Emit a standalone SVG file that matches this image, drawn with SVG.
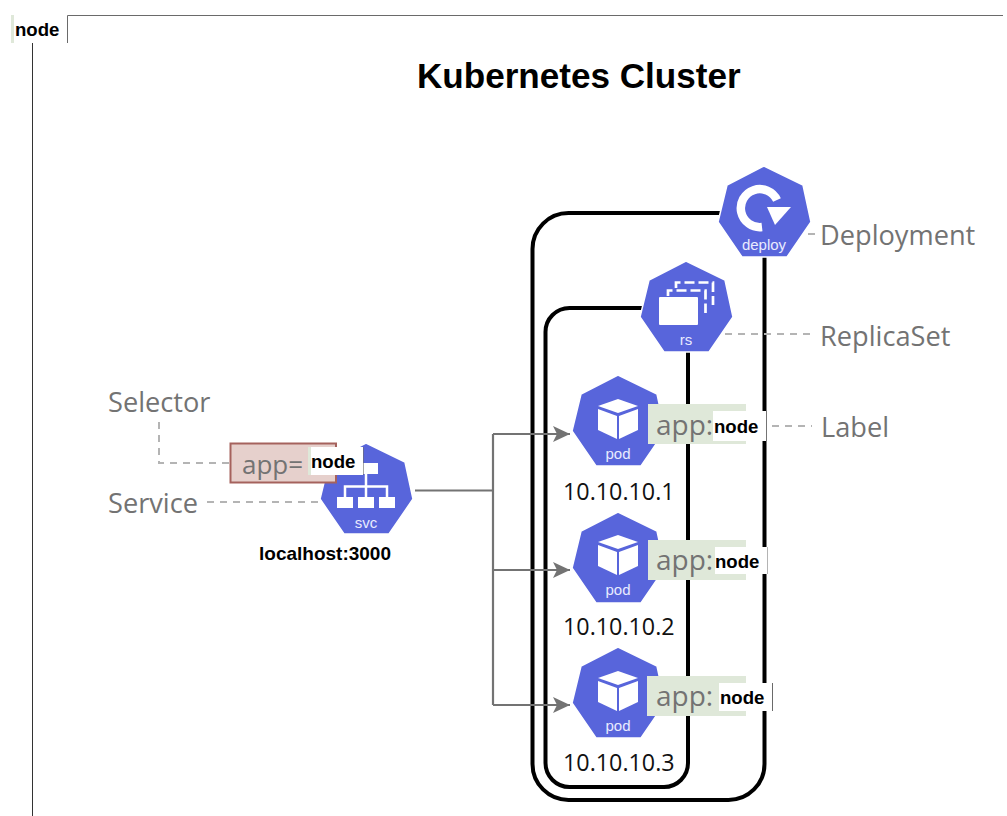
<svg xmlns="http://www.w3.org/2000/svg" width="1007" height="816" viewBox="0 0 1007 816">
<style>
.hex{fill:#5865db;stroke:#fff;stroke-width:1.5;stroke-linejoin:round}
.cap{font-family:"Liberation Sans",Arial,sans-serif;font-size:15px;fill:#e9ebff;text-anchor:middle}
.lbl{font-family:"Open Sans",sans-serif;font-size:27.2px;fill:#737373}
.app{font-family:"Open Sans",sans-serif;font-size:28px;fill:#737373}
.ip{font-family:"Open Sans",sans-serif;font-size:23.3px;fill:#111}
.b{font-family:"Liberation Sans",Arial,sans-serif;font-weight:bold;fill:#000}
.n{font-size:18.6px}
.box{fill:none;stroke:#000;stroke-width:4}
.dash{fill:none;stroke:#b4b4b4;stroke-width:2;stroke-dasharray:7 6}
.conn{fill:none;stroke:#737373;stroke-width:2.2}
.green{fill:#dfe8d9}
.white{fill:#fff}
.ic{fill:#fff}
.ol{fill:none;stroke:#fff;stroke-width:2.7;stroke-dasharray:10 4}
.frame{fill:none;stroke:#6a6a6a;stroke-width:1}
.frame-d{fill:none;stroke:#333;stroke-width:1}
</style>
<defs>
<polygon id="hept" points="0,0 39,19 47,56 23,91 -22,91 -46,56 -37,19"/>
<marker id="arr" markerUnits="userSpaceOnUse" markerWidth="20" markerHeight="18" refX="17" refY="8" orient="auto" viewBox="0 0 20 16"><path d="M0,0 L17,8 L0,16 L4,8 Z" fill="#737373"/></marker>
<g id="cube">
<polygon class="ic" points="0,24 20,31 0,38 -20,31"/>
<polygon class="ic" points="-20,34 -1,41 -1,64 -20,55"/>
<polygon class="ic" points="20,34 1,41 1,64 20,55"/>
</g>
</defs>

<g id="frame">
<path class="frame" d="M67.500,43 V15.500 H1003"/>
<path class="frame-d" d="M32.500,43 V816"/>
</g>
<g id="frame-label">
<rect x="11" y="15" width="3" height="28" class="green"/>
<text x="15" y="36" class="b n">node</text>
</g>
<g id="title"><text x="417" y="88" class="b" font-size="35.100">Kubernetes Cluster</text></g>

<g id="boxes">
<rect id="deployment-box" class="box" x="532.500" y="213" width="232" height="587" rx="36"/>
<rect id="replicaset-box" class="box" x="545.500" y="308" width="142.500" height="479" rx="24"/>
</g>

<g id="connectors">
<path class="conn" d="M415,490.500 H493"/>
<path class="conn" d="M493,434 V705" />
<path class="conn" marker-end="url(#arr)" d="M493,434 H570"/>
<path class="conn" marker-end="url(#arr)" d="M493,570 H570"/>
<path class="conn" marker-end="url(#arr)" d="M493,705 H570"/>
<path class="dash" d="M159,422 V463 H230"/>
<path class="dash" d="M207,502 H320"/>
<path class="dash" d="M808,234 H816"/>
<path class="dash" d="M725,334 H812"/>
<path class="dash" d="M772,426 H812"/>
</g>

<g id="deploy">
<use href="#hept" class="hex" x="764" y="166"/>
<path d="M762,227 A19,19 0 1 1 777,200" fill="none" stroke="#fff" stroke-width="8.500"/>
<polygon class="ic" points="767,207 791,207 775,225"/>
<text x="764" y="250" class="cap">deploy</text>
</g>

<g id="rs">
<use href="#hept" class="hex" x="686" y="261"/>
<path class="ol" d="M676,288 V282.500 H713 V305"/>
<path class="ol" d="M668,296 V290.500 H705.500 V313"/>
<rect class="ic" x="659" y="297" width="39" height="28" rx="1"/>
<text x="686" y="345" class="cap">rs</text>
</g>

<g id="pod-1">
<use href="#hept" class="hex" x="618" y="375"/>
<use href="#cube" x="618" y="375"/>
<text x="618" y="459" class="cap">pod</text>
<text x="563" y="500" class="ip">10.10.10.1</text>
</g>
<g id="label-1">
<rect class="green" x="648" y="404" width="98" height="40"/>
<text x="656" y="435" class="app">app:</text>
<rect class="white" x="713" y="411" width="53" height="30"/>
<path class="frame" d="M766.500,411 V441" opacity="0.5"/>
<text x="714" y="433" class="b n">node</text>
</g>

<g id="pod-2">
<use href="#hept" class="hex" x="618" y="512"/>
<use href="#cube" x="618" y="511"/>
<text x="618" y="595" class="cap">pod</text>
<text x="563" y="635" class="ip">10.10.10.2</text>
</g>
<g id="label-2">
<rect class="green" x="648" y="540" width="98" height="40"/>
<text x="656" y="570" class="app">app:</text>
<rect class="white" x="715" y="547" width="52" height="27"/>
<path class="frame" d="M767.500,547 V574" opacity="0.5"/>
<text x="715" y="568" class="b n">node</text>
</g>

<g id="pod-3">
<use href="#hept" class="hex" x="618" y="647"/>
<use href="#cube" x="618" y="647"/>
<text x="618" y="731" class="cap">pod</text>
<text x="563" y="771" class="ip">10.10.10.3</text>
</g>
<g id="label-3">
<rect class="green" x="647" y="676" width="99" height="40"/>
<text x="656" y="706" class="app">app:</text>
<rect class="white" x="719" y="683" width="53" height="28"/>
<path class="frame" d="M772.500,683 V711"/>
<text x="720" y="704" class="b n">node</text>
</g>

<g id="svc">
<use href="#hept" class="hex" x="366" y="443"/>
<rect class="ic" x="357" y="463" width="21" height="11"/>
<path d="M366,474 V497 M345,497 V486.500 H387 V497" fill="none" stroke="#fff" stroke-width="2.500"/>
<rect class="ic" x="337" y="497" width="16" height="11"/>
<rect class="ic" x="358" y="497" width="16" height="11"/>
<rect class="ic" x="379" y="497" width="16" height="11"/>
<text x="366" y="528" class="cap">svc</text>
<text x="325" y="560" class="b" font-size="19px" text-anchor="middle">localhost:3000</text>
</g>
<g id="selector">
<rect x="230.500" y="443.500" width="105.500" height="39" fill="#e6d0cc" stroke="#a5625d" stroke-width="2"/>
<text x="242" y="474" class="app" style="font-size:26px">app=</text>
<rect class="white" x="308" y="447" width="55" height="28"/>
<rect class="green" x="308" y="447" width="3" height="28"/>
<path class="frame" d="M363.500,447 V475" opacity="0.6"/>
<text x="311" y="468" class="b n">node</text>
</g>

<g id="captions">
<text x="820" y="245" class="lbl">Deployment</text>
<text x="820" y="346" class="lbl">ReplicaSet</text>
<text x="821" y="437" class="lbl">Label</text>
<text x="108" y="412" class="lbl">Selector</text>
<text x="108" y="513" class="lbl">Service</text>
</g>
</svg>
